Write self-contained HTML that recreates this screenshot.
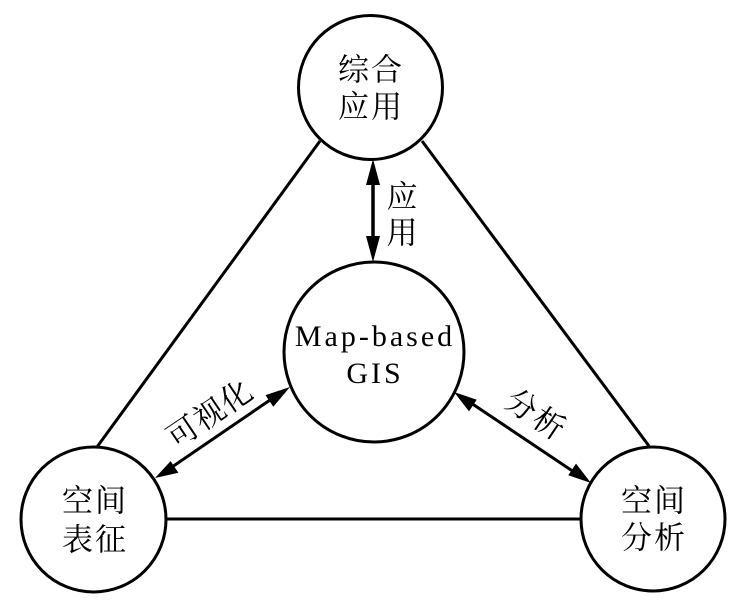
<!DOCTYPE html>
<html>
<head>
<meta charset="utf-8">
<style>
  html,body{margin:0;padding:0;background:#fff;}
  svg{display:block;}
  .zh{font-family:"Liberation Serif","Noto Serif CJK SC","Noto Serif CJK JP",serif;font-size:31px;fill:#000;}
  .en{font-family:"Liberation Serif",serif;font-size:30px;fill:#000;letter-spacing:3px;}
</style>
</head>
<body>
<svg width="756" height="614" viewBox="0 0 756 614" xmlns="http://www.w3.org/2000/svg">
  <g fill="none" stroke="#000" stroke-width="3">
    <circle cx="370.5" cy="87.5" r="72"/>
    <circle cx="374" cy="352" r="90"/>
    <circle cx="93.5" cy="519.5" r="72.5"/>
    <circle cx="653" cy="519" r="72"/>
    <line x1="320" y1="141" x2="97" y2="447"/>
    <line x1="422" y1="141" x2="649" y2="446"/>
    <line x1="166" y1="519" x2="581" y2="519"/>
    <line x1="373" y1="178" x2="373" y2="244" stroke-width="3.5"/>
    <line x1="172" y1="467" x2="273" y2="398"/>
    <line x1="471" y1="403" x2="574" y2="472"/>
  </g>
  <g fill="#000" stroke="none">
    <polygon points="373,159 366,185 380,185"/>
    <polygon points="373,262 366,236 380,236"/>
    <!-- left diagonal: u=(0.829,-0.559), perp=(0.559,0.829) -->
    <polygon points="290,387 273.3,406.7 265.5,395.1"/>
    <polygon points="155,478 178.4,472.7 170.6,461.1"/>
    <!-- right diagonal: u=(0.833,0.553), perp=(-0.553,0.833) -->
    <polygon points="454,392 469.0,411.4 476.7,399.8"/>
    <polygon points="591,483 568.3,475.2 576.0,463.6"/>
  </g>

  <g class="zh" text-anchor="middle" dominant-baseline="central">
    <text x="371" y="70" letter-spacing="2">综合</text>
    <text x="371" y="107" letter-spacing="2">应用</text>

    <text x="95" y="501" letter-spacing="2">空间</text>
    <text x="95" y="540" letter-spacing="2">表征</text>

    <text x="654" y="501" letter-spacing="2">空间</text>
    <text x="654" y="538" letter-spacing="2">分析</text>

    <text x="402" y="197">应</text>
    <text x="402" y="233">用</text>

    <text x="210" y="414" letter-spacing="1" transform="rotate(-34 210 414)">可视化</text>
    <text x="536" y="415" letter-spacing="2" transform="rotate(34 536 415)">分析</text>
  </g>

  <g class="en" text-anchor="middle">
    <text x="375" y="346">Map-based</text>
    <text x="375" y="383">GIS</text>
  </g>
</svg>
</body>
</html>
